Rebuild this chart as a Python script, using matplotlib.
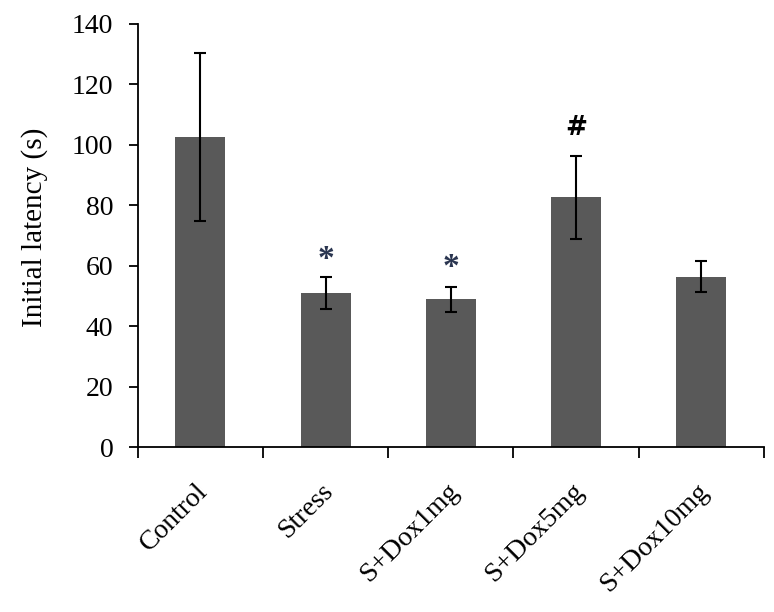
import matplotlib
matplotlib.use("Agg")
import matplotlib.pyplot as plt
import matplotlib.transforms as mtransforms
import numpy as np

categories = ["Control", "Stress", "S+Dox1mg", "S+Dox5mg", "S+Dox10mg"]
means = [102.7, 50.8, 48.9, 82.6, 56.4]
errors = [27.8, 5.3, 4.1, 13.7, 5.2]
marks = ["", "*", "*", "#", ""]
mark_y = [None, 62.0, 59.5, 105.5, None]
yticks = [0, 20, 40, 60, 80, 100, 120, 140]

plt.rcParams["font.family"] = ["Liberation Serif", "DejaVu Serif"]

fig = plt.figure(figsize=(7.74, 6.12), dpi=100)
ax = fig.add_axes([0.178, 0.2696, 0.809, 0.6914])

x = np.arange(len(categories))
ax.bar(x, means, width=0.4, color="#595959", zorder=2)
ax.errorbar(x, means, yerr=errors, fmt="none", ecolor="black",
            elinewidth=1.5, capsize=4.3, capthick=1.5, zorder=3)

for xi, m, my in zip(x, marks, mark_y):
    if m == "*":
        ax.text(xi, my, m, ha="center", va="center", fontsize=24,
                fontweight="bold", color="#2a3550")
    elif m == "#":
        ax.text(xi, my, m, ha="center", va="center", fontsize=19,
                fontweight="bold", color="black", family="DejaVu Sans")

ax.set_xlim(-0.5, len(categories) - 0.5)
ax.set_ylim(0, 140)
ax.set_yticks(yticks)
ax.set_yticklabels([str(v) for v in yticks], fontsize=20)
ax.set_xticks(x)
ax.set_xticklabels(categories, rotation=45, ha="right", rotation_mode="anchor",
                   fontsize=20)
ax.tick_params(axis="x", length=0, pad=23)
offset = mtransforms.ScaledTranslation(-0.05, 0, fig.dpi_scale_trans)
for lab in ax.get_xticklabels():
    lab.set_transform(lab.get_transform() + offset)
ax.set_xticks(np.arange(len(categories) + 1) - 0.5, minor=True)
ax.tick_params(axis="x", which="minor", length=8, width=1.3, direction="out")
ax.tick_params(axis="y", length=6.5, width=1.3, direction="out", pad=11)

for s in ["top", "right"]:
    ax.spines[s].set_visible(False)
for s in ["left", "bottom"]:
    ax.spines[s].set_linewidth(1.3)

ax.set_ylabel("Initial latency (s)", fontsize=21)
ax.yaxis.set_label_coords(-0.143, 0.52)

fig.savefig("out.png", dpi=100)
